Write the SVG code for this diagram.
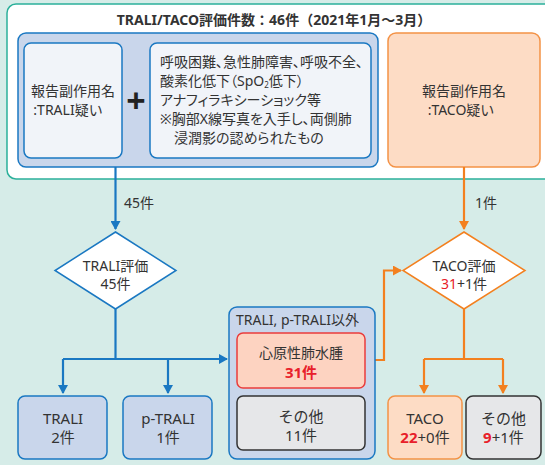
<svg xmlns="http://www.w3.org/2000/svg" width="545" height="465" viewBox="0 0 545 465">
<defs>
<style>
text{font-family:"Noto Sans","Noto Sans CJK JP",sans-serif;fill:#333;font-size:14px}
.p{font-feature-settings:"palt"}
.c{text-anchor:middle}
.r{fill:#e8202a}
.rb{fill:#e8202a;font-weight:bold}
.t{font-size:14px;font-weight:bold}
.lg{font-size:15px}
.plus{font-size:34px;font-weight:bold;fill:#222}
.sub{font-size:8px}
.blue{fill:#c9d6eb;stroke:#1a78c2;stroke-width:1.5}
.inner{fill:#f1f4f9;stroke:#1a78c2;stroke-width:1.5}
.or{fill:#fddcc5;stroke:#f39246;stroke-width:1.5}
.gray{fill:#e6e7e9;stroke:#333;stroke-width:1.5}
.pink{fill:#fdd3c1;stroke:#ea3c3c;stroke-width:1.5}
.bl{fill:none;stroke:#1a78c2;stroke-width:2.2}
.ol{fill:none;stroke:#f3801f;stroke-width:2.2}
</style>
<marker id="ab" markerWidth="10" markerHeight="10" refX="8" refY="5" orient="auto" markerUnits="userSpaceOnUse"><path d="M0,0L9,5L0,10z" fill="#1a78c2"/></marker>
<marker id="ao" markerWidth="10" markerHeight="10" refX="8" refY="5" orient="auto" markerUnits="userSpaceOnUse"><path d="M0,0L9,5L0,10z" fill="#f3801f"/></marker>
</defs>
<rect x="0" y="0" width="545" height="465" fill="#d6ece8"/>
<g id="outer">
<rect x="7" y="4" width="560" height="175" rx="9" fill="#fff" stroke="#2bb09a" stroke-width="1.5"/>
<text class="c t" x="274" y="25">TRALI/TACO評価件数：46件（2021年1月～3月）</text>
</g>
<g id="trali-group">
<rect class="blue" x="18" y="33" width="360" height="134" rx="8"/>
</g>
<g id="trali-suspect">
<rect class="inner" x="24" y="43" width="98" height="115" rx="7"/>
<text class="c" x="73" y="96">報告副作用名</text>
<text class="c" x="68" y="115">:TRALI疑い</text>
</g>
<g id="plus">
<text class="c plus" x="136" y="113">+</text>
</g>
<g id="symptoms">
<rect class="inner" x="150" y="43" width="221" height="115" rx="7"/>
<text class="p" x="160" y="67">呼吸困難、急性肺障害、呼吸不全、</text>
<text class="p" x="160" y="86">酸素化低下（SpO<tspan class="sub" dy="2">2</tspan><tspan dy="-2">低下）</tspan></text>
<text class="p" x="160" y="105">アナフィラキシーショック等</text>
<text class="p" x="160" y="124">※胸部X線写真を入手し、両側肺</text>
<text class="p" x="174" y="143">浸潤影の認められたもの</text>
</g>
<g id="taco-suspect">
<rect class="or" x="388" y="33" width="152" height="134" rx="8"/>
<text class="c" x="464" y="96">報告副作用名</text>
<text class="c" x="461" y="115">:TACO疑い</text>
</g>
<g id="connectors">
<path class="bl" d="M115.5,167V229" marker-end="url(#ab)"/>
<path class="ol" d="M464,167V229" marker-end="url(#ao)"/>
<path class="bl" d="M115.5,309V359"/>
<path class="bl" d="M63,359H227" marker-end="url(#ab)"/>
<path class="bl" d="M63,359V393" marker-end="url(#ab)"/>
<path class="bl" d="M168,359V393" marker-end="url(#ab)"/>
<path class="ol" d="M365,360H384V270.5H401" marker-end="url(#ao)"/>
<path class="ol" d="M464,309V359"/>
<path class="ol" d="M424,359H503"/>
<path class="ol" d="M424,359V393" marker-end="url(#ao)"/>
<path class="ol" d="M503,359V393" marker-end="url(#ao)"/>
<text x="124" y="208">45件</text>
<text x="475" y="208">1件</text>
</g>
<g id="trali-eval">
<polygon points="115.5,232 176,270.5 115.5,309 55,270.5" fill="#fff" stroke="#1a78c2" stroke-width="1.5"/>
<text class="c" x="115.5" y="271">TRALI評価</text>
<text class="c" x="115.5" y="289">45件</text>
</g>
<g id="taco-eval">
<polygon points="464,232 525,270.5 464,309 403,270.5" fill="#fff" stroke="#f3801f" stroke-width="1.5"/>
<text class="c" x="464" y="271">TACO評価</text>
<text class="c" x="464" y="289"><tspan class="r">31</tspan>+1件</text>
</g>
<g id="other-group">
<rect class="blue" x="229" y="307" width="146" height="152" rx="8"/>
<text x="236" y="325">TRALI, p-TRALI以外</text>
</g>
<g id="cardiogenic">
<rect class="pink" x="237" y="333" width="128" height="55" rx="6"/>
<text class="c" x="301" y="358">心原性肺水腫</text>
<text class="c rb lg" x="301" y="378">31件</text>
</g>
<g id="other11">
<rect class="gray" x="237" y="396" width="128" height="54" rx="6"/>
<text class="c lg" x="301" y="422">その他</text>
<text class="c lg" x="301" y="441">11件</text>
</g>
<g id="trali">
<rect class="blue" x="18" y="396" width="89" height="63" rx="7"/>
<text class="c lg" x="63" y="424">TRALI</text>
<text class="c lg" x="63" y="443">2件</text>
</g>
<g id="ptrali">
<rect class="blue" x="123" y="396" width="89" height="63" rx="7"/>
<text class="c lg" x="168" y="424">p-TRALI</text>
<text class="c lg" x="168" y="443">1件</text>
</g>
<g id="taco">
<rect class="or" x="388" y="396" width="74" height="63" rx="7"/>
<text class="c lg" x="425" y="424">TACO</text>
<text class="c lg" x="425" y="443"><tspan class="rb">22</tspan>+0件</text>
</g>
<g id="other-taco">
<rect class="gray" x="466" y="396" width="75" height="63" rx="7"/>
<text class="c lg" x="503.5" y="424">その他</text>
<text class="c lg" x="503.5" y="443"><tspan class="rb">9</tspan>+1件</text>
</g>
</svg>
